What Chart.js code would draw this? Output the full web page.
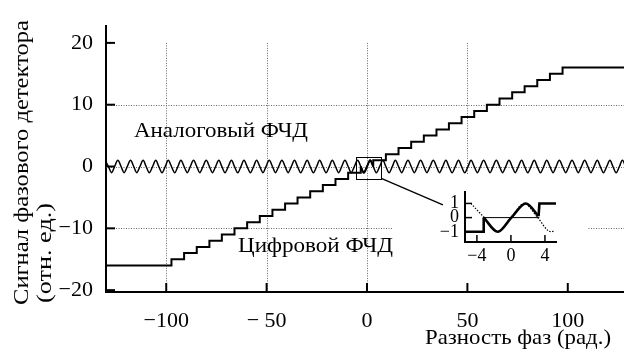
<!DOCTYPE html>
<html><head><meta charset="utf-8">
<script src="https://cdn.jsdelivr.net/npm/chart.js@4.4.0/dist/chart.umd.min.js"></script>
<style>
html,body{margin:0;padding:0;background:#fff;}
#wrap{position:relative;width:624px;height:350px;}
#main{position:absolute;left:0;top:0;}
#inset{position:absolute;left:393px;top:175px;}
</style></head><body>
<div id="wrap"><canvas id="main" width="624" height="350"></canvas><canvas id="inset" width="194" height="117"></canvas></div>
<script>
// ---------- DATA ----------
const xTickValues = [-100, -50, 0, 50, 100];
const xTickLabels = ['−100', '− 50', '0', '50', '100'];
const yTickValues = [-20, -10, 0, 10, 20];
const yTickLabels = ['−20', '−10', '0', '10', '20'];
const xGridValues = [-100, -50, 0, 50];
const yGridValues = [-10, 0, 10];

// analog PD: extrema and zero crossings
const analogPhase = [
-130.4,-128.8,-127.2,-125.7,-124.1,-122.5,-121,-119.4,-117.8,-116.2,-114.7,-113.1,-111.5,-110,-108.4,-106.8,-105.2,-103.7,-102.1,-100.5,
-99,-97.4,-95.8,-94.2,-92.7,-91.1,-89.5,-88,-86.4,-84.8,-83.3,-81.7,-80.1,-78.5,-77,-75.4,-73.8,-72.3,-70.7,-69.1,
-67.5,-66,-64.4,-62.8,-61.3,-59.7,-58.1,-56.5,-55,-53.4,-51.8,-50.3,-48.7,-47.1,-45.6,-44,-42.4,-40.8,-39.3,-37.7,
-36.1,-34.6,-33,-31.4,-29.8,-28.3,-26.7,-25.1,-23.6,-22,-20.4,-18.8,-17.3,-15.7,-14.1,-12.6,-11,-9.4,-7.9,-6.3,
-4.7,-3.1,-1.6,0,1.6,3.1,4.7,6.3,7.9,9.4,11,12.6,14.1,15.7,17.3,18.8,20.4,22,23.6,25.1,
26.7,28.3,29.8,31.4,33,34.6,36.1,37.7,39.3,40.8,42.4,44,45.6,47.1,48.7,50.3,51.8,53.4,55,56.5,
58.1,59.7,61.3,62.8,64.4,66,67.5,69.1,70.7,72.3,73.8,75.4,77,78.5,80.1,81.7,83.3,84.8,86.4,88,
89.5,91.1,92.7,94.2,95.8,97.4,99,100.5,102.1,103.7,105.2,106.8,108.4,110,111.5,113.1,114.7,116.2,117.8,119.4,
121,122.5,124.1,125.7,127.2,128.8
];
const analogSignal = [
1,0,-1,0,1,0,-1,0,1,0,-1,0,1,0,-1,0,1,0,-1,0,1,0,-1,0,1,0,-1,0,1,0,-1,0,1,0,-1,0,1,0,-1,0,
1,0,-1,0,1,0,-1,0,1,0,-1,0,1,0,-1,0,1,0,-1,0,1,0,-1,0,1,0,-1,0,1,0,-1,0,1,0,-1,0,1,0,-1,0,
1,0,-1,0,1,0,-1,0,1,0,-1,0,1,0,-1,0,1,0,-1,0,1,0,-1,0,1,0,-1,0,1,0,-1,0,1,0,-1,0,1,0,-1,0,
1,0,-1,0,1,0,-1,0,1,0,-1,0,1,0,-1,0,1,0,-1,0,1,0,-1,0,1,0,-1,0,1,0,-1,0,1,0,-1,0,1,0,-1,0,
1,0,-1,0,1,0
];

// digital PD: staircase (level holds from given phase onward)
const digitalLeftPhase = [-131,-97.4,-91.1,-84.8,-78.5,-72.3,-66,-59.7,-53.4,-47.1,-40.8,-34.6,-28.3,-22,-15.7,-9.4,-3.1];
const digitalLeftLevel = [-16,-15,-14,-13,-12,-11,-10,-9,-8,-7,-6,-5,-4,-3,-2,-1,0];
const digitalMidPhase = [-3.1,-1.6,0,1.6,3.1];
const digitalMidLevel = [0,-1,0,1,0];
const digitalRightPhase = [3.1,3.1,9.4,15.7,22,28.3,34.6,40.8,47.1,53.4,59.7,66,72.3,78.5,84.8,91.1,97.4,130];
const digitalRightLevel = [0,1,2,3,4,5,6,7,8,9,10,11,12,13,14,15,16,16];

// zoom box around origin (data units) and connector target
const zoomBoxPhase = [-5.3, 7.1];
const zoomBoxSignal = [-1.92, 1.61];
const connectorEnd = [37.8, -6.2];

// inset
const insetXTicks = [-4, 0, 4];
const insetXTickLabels = ['−4', '0', '4'];
const insetYTicks = [-1, 0, 1];
const insetYTickLabels = ['−1', '0', '1'];
const insetAnalogPhase = [-4.71,-3.14,-1.57,0,1.57,3.14,4.71,5.1];
const insetAnalogSignal = [1,0,-1,0,1,0,-1,-0.93];
const insetZeroPhase = [-3.25, 3.35];
const insetZeroSignal = [0, 0];
const insetDigLeftPhase = [-5.4,-3.25,-3.2];
const insetDigLeftSignal = [-1,-1,0];
const insetDigMidPhase = [-3.2,-1.55,0.05,1.75,3.25];
const insetDigMidSignal = [0,-1,0,1,0.1];
const insetDigRightPhase = [3.25,3.35,5.3];
const insetDigRightSignal = [0.1,1,1];

// ---------- HELPERS ----------
const SERIF = "'Liberation Serif', 'Times New Roman', serif";
const pts = (xs, ys) => xs.map((v, i) => ({x: v, y: ys[i]}));
const INSET_BOX = {left: 393, top: 175, width: 194, height: 115};

// draw text stretched horizontally to a target width
function fitText(ctx, text, x, y, width, rot) {
  ctx.save();
  ctx.translate(x, y);
  if (rot) ctx.rotate(rot);
  const w = ctx.measureText(text).width;
  ctx.scale(width / w, 1);
  ctx.fillText(text, 0, 0);
  ctx.restore();
}

const mainDecor = {
  id: 'mainDecor',
  beforeDatasetsDraw(chart) {
    const {ctx, chartArea: a, scales: {x, y}} = chart;
    ctx.save();
    ctx.strokeStyle = '#666'; ctx.lineWidth = 1; ctx.setLineDash([1, 1.5]);
    const yTop = y.getPixelForValue(20);
    xGridValues.forEach(v => {
      const px = Math.round(x.getPixelForValue(v)) + 0.5;
      ctx.beginPath(); ctx.moveTo(px, yTop); ctx.lineTo(px, a.bottom); ctx.stroke();
    });
    yGridValues.forEach(v => {
      const py = Math.round(y.getPixelForValue(v)) + 0.5;
      ctx.beginPath(); ctx.moveTo(a.left, py); ctx.lineTo(a.right, py); ctx.stroke();
    });
    ctx.setLineDash([]);
    ctx.fillStyle = '#fff';
    ctx.fillRect(INSET_BOX.left, INSET_BOX.top, INSET_BOX.width, INSET_BOX.height);
    ctx.restore();
  },
  afterDraw(chart) {
    const {ctx, chartArea: a, scales: {x, y}} = chart;
    ctx.save();
    ctx.strokeStyle = '#000'; ctx.lineWidth = 2;
    xTickValues.forEach(v => {
      const px = x.getPixelForValue(v);
      ctx.beginPath(); ctx.moveTo(px, a.bottom); ctx.lineTo(px, a.bottom - 9); ctx.stroke();
    });
    yTickValues.forEach(v => {
      const py = y.getPixelForValue(v);
      ctx.beginPath(); ctx.moveTo(a.left, py); ctx.lineTo(a.left + 9, py); ctx.stroke();
    });
    // zoom box + connector
    ctx.lineWidth = 1;
    const bx0 = x.getPixelForValue(zoomBoxPhase[0]), bx1 = x.getPixelForValue(zoomBoxPhase[1]);
    const by0 = y.getPixelForValue(zoomBoxSignal[1]), by1 = y.getPixelForValue(zoomBoxSignal[0]);
    ctx.strokeRect(Math.round(bx0) + 0.5, Math.round(by0) + 0.5, Math.round(bx1 - bx0), Math.round(by1 - by0));
    ctx.lineWidth = 1.3;
    ctx.beginPath(); ctx.moveTo(bx1, by1);
    ctx.lineTo(x.getPixelForValue(connectorEnd[0]), y.getPixelForValue(connectorEnd[1])); ctx.stroke();
    // texts
    ctx.fillStyle = '#000';
    ctx.font = '21px ' + SERIF;
    ctx.textAlign = 'left'; ctx.textBaseline = 'alphabetic';
    fitText(ctx, 'Аналоговый ФЧД', 134, 137, 174);
    fitText(ctx, 'Цифровой ФЧД', 238, 252, 155);
    fitText(ctx, 'Разность фаз (рад.)', 425, 344, 186);
    fitText(ctx, 'Сигнал фазового детектора', 28, 305, 285, -Math.PI / 2);
    fitText(ctx, '(отн. ед.)', 51, 303, 100, -Math.PI / 2);
    ctx.restore();
  }
};

new Chart(document.getElementById('main'), {
  type: 'line',
  data: {
    datasets: [
      {data: pts(analogPhase, analogSignal), borderColor: '#000', borderWidth: 1.5, pointRadius: 0, cubicInterpolationMode: 'monotone', fill: false},
      {data: pts(digitalLeftPhase, digitalLeftLevel), borderColor: '#000', borderWidth: 2, pointRadius: 0, stepped: true, fill: false},
      {data: pts(digitalMidPhase, digitalMidLevel), borderColor: '#000', borderWidth: 2, pointRadius: 0, cubicInterpolationMode: 'monotone', fill: false},
      {data: pts(digitalRightPhase, digitalRightLevel), borderColor: '#000', borderWidth: 2, pointRadius: 0, stepped: true, fill: false}
    ]
  },
  options: {
    responsive: false, animation: false, events: [],
    layout: {padding: {top: 12, right: 0, bottom: 0, left: 0}},
    plugins: {legend: {display: false}, tooltip: {enabled: false}},
    scales: {
      x: {
        type: 'linear', min: -130, max: 128,
        afterFit: s => { s.height = 58; },
        afterBuildTicks: s => { s.ticks = xTickValues.map(v => ({value: v})); },
        grid: {display: false, drawTicks: false},
        border: {display: true, color: '#000', width: 2},
        ticks: {autoSkip: false, maxRotation: 0, padding: 16, color: '#000', font: {family: SERIF, size: 22},
          callback: (v, i) => xTickLabels[i]}
      },
      y: {
        type: 'linear', min: -20.3, max: 22.7,
        afterFit: s => { s.width = 106; },
        afterBuildTicks: s => { s.ticks = yTickValues.map(v => ({value: v})); },
        grid: {display: false, drawTicks: false},
        border: {display: true, color: '#000', width: 2},
        ticks: {autoSkip: false, padding: 13, color: '#000', font: {family: SERIF, size: 22},
          callback: (v, i) => yTickLabels[i]}
      }
    }
  },
  plugins: [mainDecor]
});

const insetDecor = {
  id: 'insetDecor',
  afterDraw(chart) {
    const {ctx, chartArea: a, scales: {x, y}} = chart;
    ctx.save(); ctx.strokeStyle = '#000'; ctx.lineWidth = 1.5;
    insetXTicks.forEach(v => {
      const px = x.getPixelForValue(v);
      ctx.beginPath(); ctx.moveTo(px, a.bottom); ctx.lineTo(px, a.bottom - 7); ctx.stroke();
    });
    insetYTicks.forEach(v => {
      const py = y.getPixelForValue(v);
      ctx.beginPath(); ctx.moveTo(a.left, py); ctx.lineTo(a.left + 7, py); ctx.stroke();
    });
    ctx.restore();
  }
};

new Chart(document.getElementById('inset'), {
  type: 'line',
  data: {
    datasets: [
      {data: pts(insetZeroPhase, insetZeroSignal), borderColor: '#000', borderWidth: 1, pointRadius: 0, fill: false},
      {data: pts(insetAnalogPhase, insetAnalogSignal), borderColor: '#000', borderWidth: 1.2, borderDash: [1.5, 1.5], pointRadius: 0, cubicInterpolationMode: 'monotone', fill: false},
      {data: pts(insetDigLeftPhase, insetDigLeftSignal), borderColor: '#000', borderWidth: 2.6, pointRadius: 0, fill: false},
      {data: pts(insetDigMidPhase, insetDigMidSignal), borderColor: '#000', borderWidth: 2.6, pointRadius: 0, cubicInterpolationMode: 'monotone', fill: false},
      {data: pts(insetDigRightPhase, insetDigRightSignal), borderColor: '#000', borderWidth: 2.6, pointRadius: 0, fill: false}
    ]
  },
  options: {
    responsive: false, animation: false, events: [],
    layout: {padding: {top: 8, right: 31, bottom: 0, left: 0}},
    plugins: {legend: {display: false}, tooltip: {enabled: false}},
    scales: {
      x: {
        type: 'linear', min: -5.4, max: 5.3,
        afterFit: s => { s.height = 50; },
        afterBuildTicks: s => { s.ticks = insetXTicks.map(v => ({value: v})); },
        grid: {display: false, drawTicks: false},
        border: {display: true, color: '#000', width: 2},
        ticks: {autoSkip: false, maxRotation: 0, padding: 3, color: '#000', font: {family: SERIF, size: 18},
          callback: (v, i) => insetXTickLabels[i]}
      },
      y: {
        type: 'linear', min: -1.72, max: 1.82,
        afterFit: s => { s.width = 72; },
        afterBuildTicks: s => { s.ticks = insetYTicks.map(v => ({value: v})); },
        grid: {display: false, drawTicks: false},
        border: {display: true, color: '#000', width: 2},
        ticks: {autoSkip: false, padding: 6, color: '#000', font: {family: SERIF, size: 18},
          callback: (v, i) => insetYTickLabels[i]}
      }
    }
  },
  plugins: [insetDecor]
});
</script>
</body></html>
